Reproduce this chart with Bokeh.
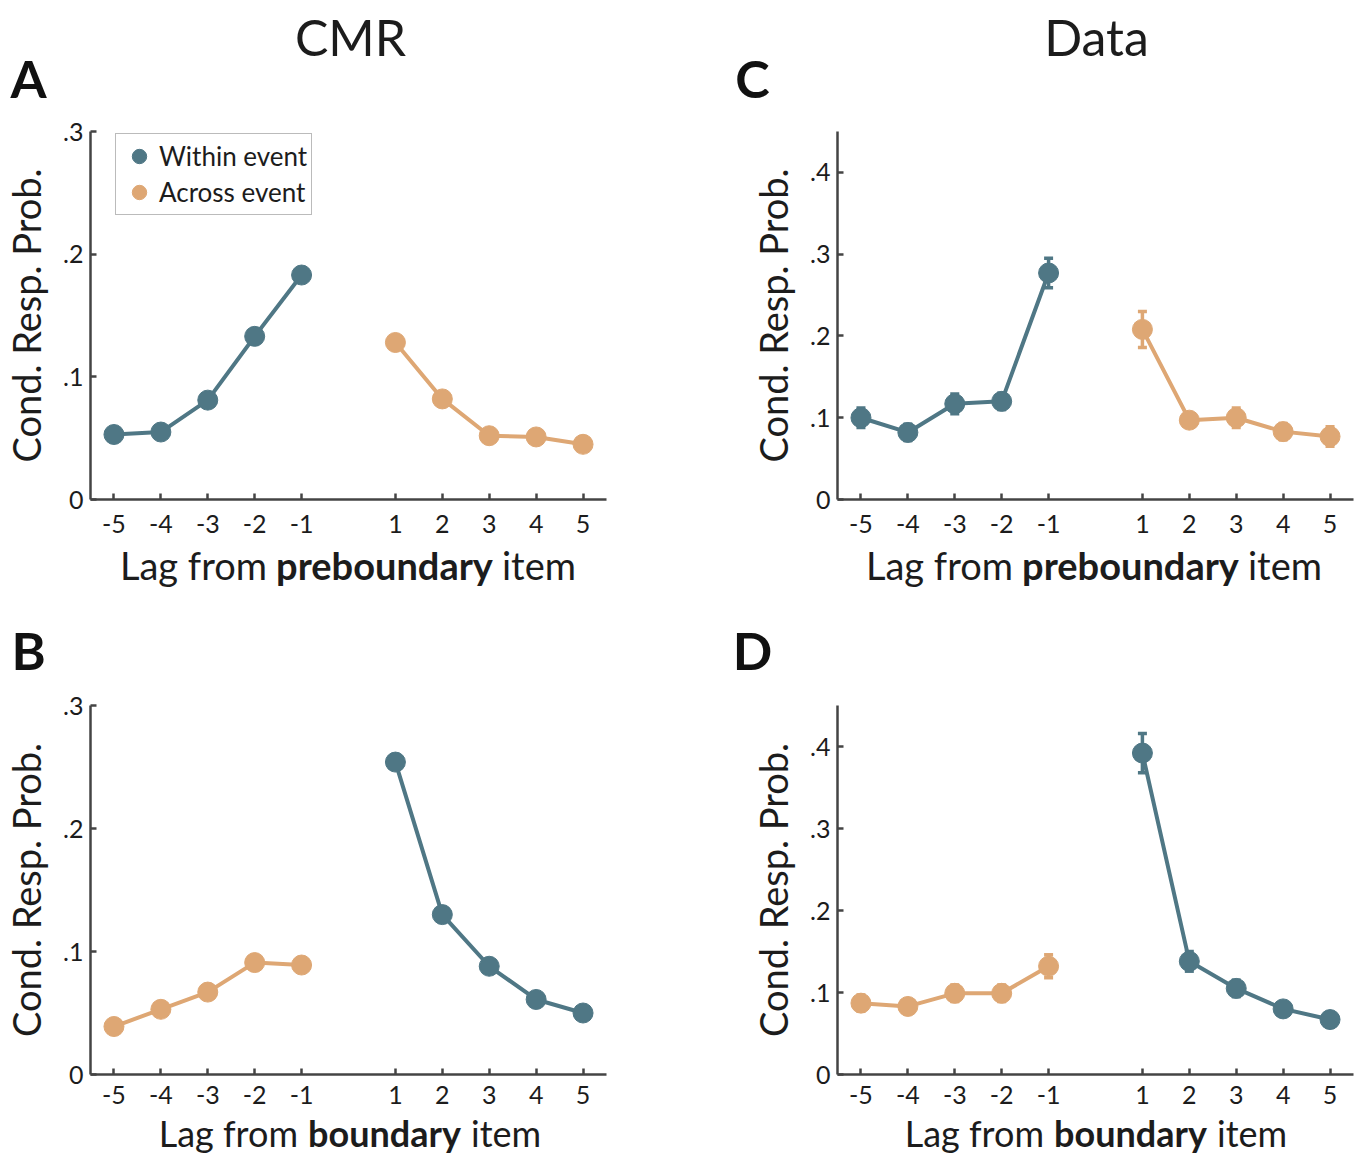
from bokeh.plotting import figure
from bokeh.layouts import column, row
from bokeh.models import (FixedTicker, CustomJSTickFormatter, Legend, LegendItem,
                          Whisker, ColumnDataSource, Range1d, TeeHead)
from bokeh.core.properties import value
from bokeh.embed import file_html
from bokeh.resources import INLINE

# ---------------- data ----------------
neg_lags = [-5, -4, -3, -2, -1]
pos_lags = [1, 2, 3, 4, 5]
lag_ticks = neg_lags + pos_lags

cmr_ticks = [0, 0.1, 0.2, 0.3]
data_ticks = [0, 0.1, 0.2, 0.3, 0.4]

# CMR, lag from preboundary item
cmr_pre_within = [0.053, 0.055, 0.081, 0.133, 0.183]
cmr_pre_across = [0.128, 0.082, 0.052, 0.051, 0.045]
# CMR, lag from boundary item
cmr_bnd_across = [0.039, 0.053, 0.067, 0.091, 0.089]
cmr_bnd_within = [0.254, 0.130, 0.088, 0.061, 0.050]

# Data, lag from preboundary item
data_pre_within = [0.100, 0.082, 0.117, 0.120, 0.277]
data_pre_within_err = [0.012, 0.010, 0.012, 0.010, 0.018]
data_pre_across = [0.208, 0.097, 0.100, 0.083, 0.077]
data_pre_across_err = [0.022, 0.008, 0.012, 0.010, 0.012]
# Data, lag from boundary item
data_bnd_across = [0.087, 0.083, 0.099, 0.099, 0.132]
data_bnd_across_err = [0.010, 0.008, 0.010, 0.010, 0.014]
data_bnd_within = [0.392, 0.138, 0.105, 0.080, 0.067]
data_bnd_within_err = [0.024, 0.012, 0.010, 0.008, 0.007]

column_titles = ["CMR", "Data"]
panel_letters = ["A", "B", "C", "D"]
ylab = "Cond. Resp. Prob."
xlab_pre = ["Lag from", "preboundary", "item"]
xlab_bnd = ["Lag from", "boundary", "item"]
legend_labels = ["Within event", "Across event"]

# ---------------- style ----------------
BLUE = "#4f7785"
ORANGE = "#dea774"
FONT = "Lato"
TXT = "#1c1c1c"
AXC = "#444444"

PW = 680
FW, FH = 516, 369
XMIN, XMAX = -5.5, 5.5
W = 1360


def make_panel(ymax, yticks, left, top, height, series, tick_standoff, legend=False):
    p = figure(width=PW, height=height,
               x_range=Range1d(XMIN, XMAX), y_range=Range1d(0, ymax),
               min_border_left=left, min_border_right=PW - left - FW,
               min_border_top=top, min_border_bottom=height - top - FH,
               output_backend="svg", toolbar_location=None, tools="")
    p.xgrid.visible = False
    p.ygrid.visible = False
    p.outline_line_color = None

    for ax in (p.xaxis[0], p.yaxis[0]):
        ax.axis_line_width = 2.5
        ax.axis_line_color = AXC
        ax.major_tick_in = 6
        ax.major_tick_out = 0
        ax.major_tick_line_width = 2.5
        ax.major_tick_line_color = AXC
        ax.minor_tick_line_color = None
        ax.major_label_text_font = FONT
        ax.major_label_text_font_size = "25px"
        ax.major_label_text_color = TXT

    p.xaxis.ticker = FixedTicker(ticks=lag_ticks)
    p.xaxis.formatter = CustomJSTickFormatter(code="return String(tick);")
    p.xaxis.major_label_standoff = tick_standoff
    p.yaxis.ticker = FixedTicker(ticks=yticks)
    p.yaxis.formatter = CustomJSTickFormatter(
        code="return tick == 0 ? '0' : tick.toFixed(1).replace(/^0/, '');")
    p.yaxis.major_label_standoff = 7
    p.yaxis.axis_label = ylab
    p.yaxis.axis_label_text_font = FONT
    p.yaxis.axis_label_text_font_size = "38px"
    p.yaxis.axis_label_text_font_style = "normal"
    p.yaxis.axis_label_text_color = TXT
    p.yaxis.axis_label_standoff = 11

    renderers = {}
    for xs, ys, errs, color, name in series:
        p.line(xs, ys, line_width=4, line_color=color)
        if errs is not None:
            src = ColumnDataSource(dict(x=xs,
                                        lower=[a - b for a, b in zip(ys, errs)],
                                        upper=[a + b for a, b in zip(ys, errs)]))
            p.add_layout(Whisker(source=src, base="x", upper="upper", lower="lower",
                                 line_color=color, line_width=3.5,
                                 upper_head=TeeHead(size=9, line_color=color, line_width=3.5),
                                 lower_head=TeeHead(size=9, line_color=color, line_width=3.5)))
        renderers[name] = p.scatter(xs, ys, size=20, fill_color=color, line_color=color)

    if legend:
        lg = Legend(items=[LegendItem(label=legend_labels[0], renderers=[renderers["within"]]),
                           LegendItem(label=legend_labels[1], renderers=[renderers["across"]])],
                    location=(25, FH - 85))
        lg.label_text_font = FONT
        lg.label_text_font_size = "26px"
        lg.label_text_color = TXT
        lg.glyph_width = 38
        lg.glyph_height = 36
        lg.label_height = 36
        lg.label_standoff = 1
        lg.spacing = 0
        lg.padding = 4
        lg.margin = 0
        lg.border_line_color = "#777777"
        lg.border_line_width = 1.5
        lg.background_fill_alpha = 1.0
        p.add_layout(lg)
    return p


def strip(height):
    s = figure(width=W, height=height, x_range=Range1d(0, W), y_range=Range1d(height, 0),
               x_axis_type=None, y_axis_type=None, min_border=0,
               min_border_left=0, min_border_right=0, min_border_top=0, min_border_bottom=0,
               output_backend="svg", toolbar_location=None, tools="")
    s.outline_line_color = None
    s.xgrid.visible = False
    s.ygrid.visible = False
    return s


def xlabel(s, words, cx, cy, bold_w, size, gap=8):
    common = dict(text_font=value(FONT), text_font_size=size, text_color=TXT,
                  text_baseline="middle")
    s.text(x=[cx - bold_w / 2 - gap], y=[cy], text=[words[0]], text_align="right", **common)
    s.text(x=[cx], y=[cy], text=[words[1]], text_align="center", text_font_style="bold", **common)
    s.text(x=[cx + bold_w / 2 + gap], y=[cy], text=[words[2]], text_align="left", **common)


def letter(s, t, cx, cy):
    s.text(x=[cx], y=[cy], text=[t], text_align="center", text_baseline="middle",
           text_font=value(FONT), text_font_size="52px", text_font_style="bold",
           text_color="#111111")


# top strip: column titles + letters A, C
t1 = strip(110)
t1.text(x=[350, 1096], y=[36, 36], text=column_titles, text_align="center",
        text_baseline="middle", text_font=value(FONT), text_font_size="50px", text_color=TXT)
letter(t1, panel_letters[0], 28, 77)
letter(t1, panel_letters[2], 752, 77)

# panels row 1
pa = make_panel(0.3, cmr_ticks, 90, 20, 432,
                [(neg_lags, cmr_pre_within, None, BLUE, "within"),
                 (pos_lags, cmr_pre_across, None, ORANGE, "across")], 15, legend=True)
pc = make_panel(0.45, data_ticks, 157, 21, 432,
                [(neg_lags, data_pre_within, data_pre_within_err, BLUE, "within"),
                 (pos_lags, data_pre_across, data_pre_across_err, ORANGE, "across")], 15)

# middle strip: x labels for A, C + letters B, D
t2 = strip(146)
xlabel(t2, xlab_pre, 384, 22, 219, "38px")
xlabel(t2, xlab_pre, 1130, 22, 219, "38px")
letter(t2, panel_letters[1], 28, 107)
letter(t2, panel_letters[3], 752, 107)

# panels row 2
pb = make_panel(0.3, cmr_ticks, 90, 17, 422,
                [(pos_lags, cmr_bnd_within, None, BLUE, "within"),
                 (neg_lags, cmr_bnd_across, None, ORANGE, "across")], 11)
pd_ = make_panel(0.45, data_ticks, 157, 17, 422,
                 [(pos_lags, data_bnd_within, data_bnd_within_err, BLUE, "within"),
                  (neg_lags, data_bnd_across, data_bnd_across_err, ORANGE, "across")], 11)

# bottom strip: x labels for B, D
t3 = strip(44)
xlabel(t3, xlab_bnd, 384, 22, 157, "36px")
xlabel(t3, xlab_bnd, 1130, 22, 157, "36px")

layout = column(t1, row(pa, pc, spacing=0), t2, row(pb, pd_, spacing=0), t3, spacing=0)

open("out.html", "w").write(file_html(layout, INLINE))
